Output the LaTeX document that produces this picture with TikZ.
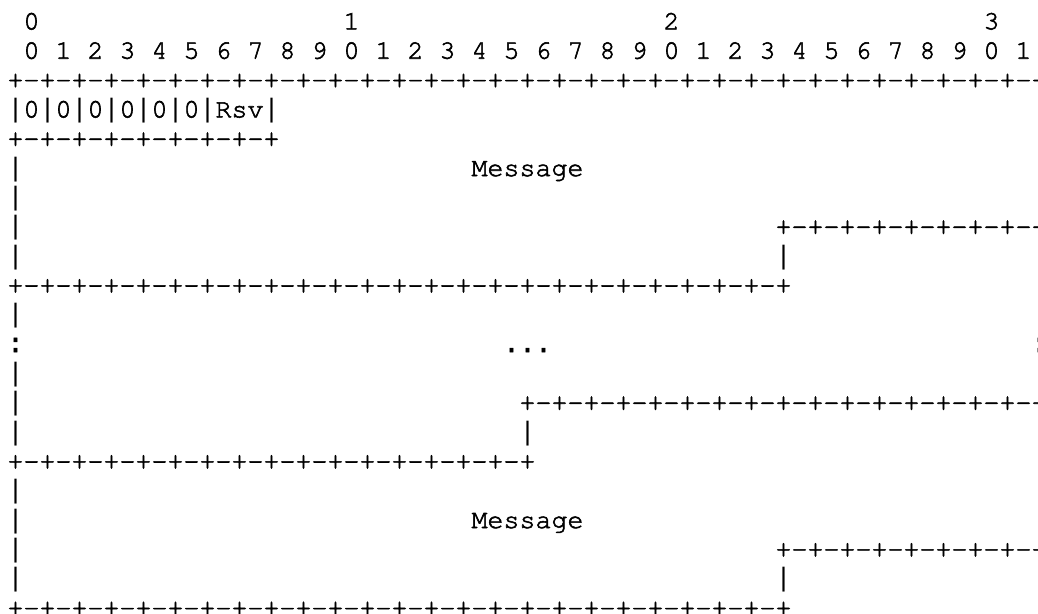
\documentclass[tikz,border=0pt]{standalone}
\usepackage[T1]{fontenc}
\usepackage{fontspec}
\newfontfamily\lmono{Liberation Mono}
\newcommand\cour{\fontencoding{T1}\fontfamily{pcr}\fontseries{m}\fontshape{n}\fontsize{26.667pt}{29.33pt}\selectfont}
\newcommand\vbr{{\special{pdf:literal direct 0 Tr}\lmono|\special{pdf:literal direct 2 Tr}}}
\newcommand\punct[1]{{\lmono #1}}
\newcommand\heavier[1]{\special{pdf:literal direct 2 Tr 0.55 w}#1\special{pdf:literal direct 0 Tr}}
\tikzset{ch/.style={anchor=base west, inner sep=0pt, outer sep=0pt, font=\cour, text=black}}
% \putc{name}{column}{row}{text}
\newcommand\putc[4]{\node[ch] (#1) at ({7.5+16*(#2)},{-(29.4+29.33*(#3))}) {\heavier{#4}};}
\begin{document}
\begin{tikzpicture}[x=1pt,y=1pt]
\useasboundingbox[fill=white] (0,0) rectangle (1038,-613);
% row 0: decade labels
\putc{h0}{1}{0}{0}
\putc{h1}{21}{0}{1}
\putc{h2}{41}{0}{2}
\putc{h3}{61}{0}{3}
% row 1: bit numbers
\foreach \i in {0,...,31}{
  \pgfmathtruncatemacro\d{mod(\i,10)}
  \pgfmathtruncatemacro\c{2*\i+1}
  \putc{b\i}{\c}{1}{\d}
}
% row 2
\putc{r2}{0}{2}{+-+-+-+-+-+-+-+-+-+-+-+-+-+-+-+-+-+-+-+-+-+-+-+-+-+-+-+-+-+-+-+-+}
% row 3-4
\putc{r3}{0}{3}{\vbr0\vbr0\vbr0\vbr0\vbr0\vbr0\vbr Rsv\vbr}
\putc{r4}{0}{4}{+-+-+-+-+-+-+-+-+}
% first message block
\putc{r5a}{0}{5}{\vbr}
\putc{r5b}{29}{5}{Message}
\putc{r6}{0}{6}{\vbr}
\putc{r7a}{0}{7}{\vbr}
\putc{r7b}{48}{7}{+-+-+-+-+-+-+-+-+}
\putc{r8a}{0}{8}{\vbr}
\putc{r8b}{48}{8}{\vbr}
\putc{r9}{0}{9}{+-+-+-+-+-+-+-+-+-+-+-+-+-+-+-+-+-+-+-+-+-+-+-+-+}
% ellipsis block
\putc{r10}{0}{10}{\vbr}
\putc{r11a}{0}{11}{\punct{:}}
\putc{r11b}{31}{11}{\punct{...}}
\putc{r11c}{64}{11}{\punct{:}}
\putc{r12}{0}{12}{\vbr}
\putc{r13a}{0}{13}{\vbr}
\putc{r13b}{32}{13}{+-+-+-+-+-+-+-+-+-+-+-+-+-+-+-+-+}
\putc{r14a}{0}{14}{\vbr}
\putc{r14b}{32}{14}{\vbr}
\putc{r15}{0}{15}{+-+-+-+-+-+-+-+-+-+-+-+-+-+-+-+-+}
% last message block
\putc{r16}{0}{16}{\vbr}
\putc{r17a}{0}{17}{\vbr}
\putc{r17b}{29}{17}{Message}
\putc{r18a}{0}{18}{\vbr}
\putc{r18b}{48}{18}{+-+-+-+-+-+-+-+-+}
\putc{r19a}{0}{19}{\vbr}
\putc{r19b}{48}{19}{\vbr}
\putc{r20}{0}{20}{+-+-+-+-+-+-+-+-+-+-+-+-+-+-+-+-+-+-+-+-+-+-+-+-+}
\end{tikzpicture}
\end{document}
